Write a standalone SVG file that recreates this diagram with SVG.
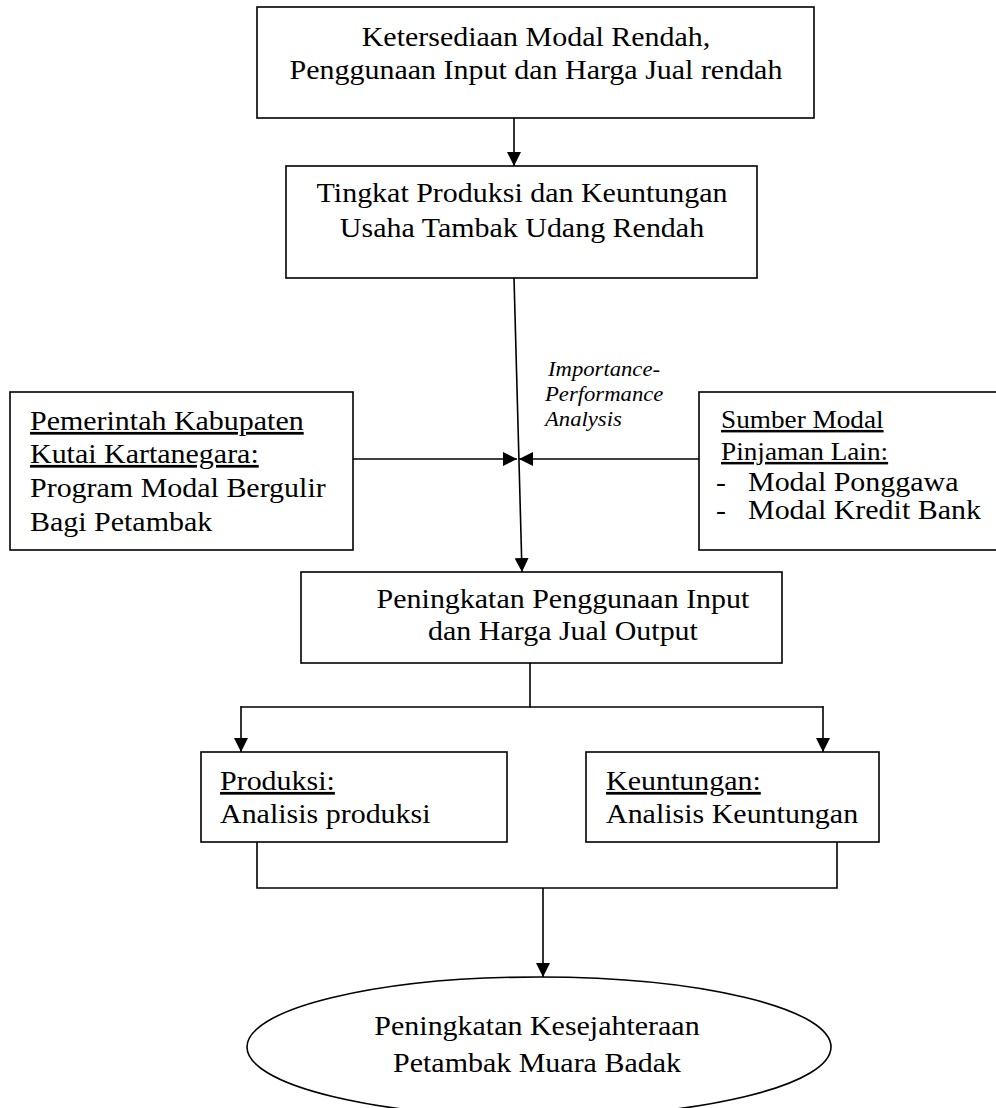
<svg xmlns="http://www.w3.org/2000/svg" width="996" height="1108" viewBox="0 0 996 1108">
<style>
.box{fill:#fff;stroke:#000;stroke-width:1.6}
.ln{fill:none;stroke:#000;stroke-width:1.6}
.t{font-family:"Liberation Serif","Times New Roman",serif;font-size:27.5px;fill:#000}
.ts{font-family:"Liberation Serif","Times New Roman",serif;font-size:25px;fill:#000}
.ti{font-family:"Liberation Serif","Times New Roman",serif;font-size:21px;font-style:italic;fill:#000}
.c{text-anchor:middle}
.u{text-decoration:underline}
</style>
<defs>
<marker id="ah" viewBox="0 0 14 14" refX="14" refY="7" markerWidth="14" markerHeight="14" markerUnits="userSpaceOnUse" orient="auto">
<path d="M0,0 L14,7 L0,14 Z" fill="#000"/>
</marker>
</defs>
<rect width="996" height="1108" fill="#fff"/>
<g id="connectors">
<line class="ln" x1="514" y1="118" x2="514" y2="166" marker-end="url(#ah)"/>
<line class="ln" x1="514" y1="278" x2="522" y2="572" marker-end="url(#ah)"/>
<line class="ln" x1="353" y1="459" x2="517" y2="459" marker-end="url(#ah)"/>
<line class="ln" x1="699" y1="459" x2="519" y2="459" marker-end="url(#ah)"/>
<polyline class="ln" points="530,663 530,707 241,707"/>
<line class="ln" x1="241" y1="706" x2="241" y2="752" marker-end="url(#ah)"/>
<polyline class="ln" points="530,707 823,707"/>
<line class="ln" x1="823" y1="706" x2="823" y2="752" marker-end="url(#ah)"/>
<polyline class="ln" points="257,842 257,888 837,888 837,842"/>
<line class="ln" x1="543" y1="888" x2="543" y2="977" marker-end="url(#ah)"/>
</g>
<g id="n1">
<rect class="box" x="257" y="7" width="557" height="111"/>
<text class="t c" transform="translate(536,46) scale(1.09,1)">Ketersediaan Modal Rendah,</text>
<text class="t c" transform="translate(536,79) scale(1.09,1)">Penggunaan Input dan Harga Jual rendah</text>
</g>
<g id="n2">
<rect class="box" x="286" y="166" width="471" height="112"/>
<text class="t c" transform="translate(522,202) scale(1.09,1)">Tingkat Produksi dan Keuntungan</text>
<text class="t c" transform="translate(522,237) scale(1.09,1)">Usaha Tambak Udang Rendah</text>
</g>
<g id="label-ipa">
<text class="ti" transform="translate(548,376) scale(1.08,1)">Importance-</text>
<text class="ti" transform="translate(545,401) scale(1.08,1)">Performance</text>
<text class="ti" transform="translate(545,426) scale(1.08,1)">Analysis</text>
</g>
<g id="n-pemerintah">
<rect class="box" x="10" y="392" width="343" height="158"/>
<text class="t u" transform="translate(30,430) scale(1.09,1)">Pemerintah Kabupaten</text>
<text class="t u" transform="translate(30,463) scale(1.09,1)">Kutai Kartanegara:</text>
<text class="t" transform="translate(30,497) scale(1.09,1)">Program Modal Bergulir</text>
<text class="t" transform="translate(30,531) scale(1.09,1)">Bagi Petambak</text>
</g>
<g id="n-sumber">
<rect class="box" x="699" y="392" width="310" height="158"/>
<text class="ts u" transform="translate(721,428) scale(1.09,1)">Sumber Modal</text>
<text class="ts u" transform="translate(721,460) scale(1.09,1)">Pinjaman Lain:</text>
<text class="t" transform="translate(716,491) scale(1.09,1)">-</text>
<text class="t" transform="translate(748,491) scale(1.09,1)">Modal Ponggawa</text>
<text class="t" transform="translate(716,519) scale(1.09,1)">-</text>
<text class="t" transform="translate(748,519) scale(1.09,1)">Modal Kredit Bank</text>
</g>
<g id="n3">
<rect class="box" x="301" y="572" width="481" height="91"/>
<text class="t c" transform="translate(563,608) scale(1.09,1)">Peningkatan Penggunaan Input</text>
<text class="t c" transform="translate(563,640) scale(1.09,1)">dan Harga Jual Output</text>
</g>
<g id="n-produksi">
<rect class="box" x="201" y="752" width="306" height="90"/>
<text class="t u" transform="translate(220,790) scale(1.09,1)">Produksi:</text>
<text class="t" transform="translate(220,823) scale(1.09,1)">Analisis produksi</text>
</g>
<g id="n-keuntungan">
<rect class="box" x="586" y="752" width="293" height="90"/>
<text class="t u" transform="translate(606,790) scale(1.09,1)">Keuntungan:</text>
<text class="t" transform="translate(606,823) scale(1.09,1)">Analisis Keuntungan</text>
</g>
<g id="n-kesejahteraan">
<ellipse class="box" cx="539" cy="1047" rx="292" ry="70"/>
<text class="t c" transform="translate(537,1035) scale(1.09,1)">Peningkatan Kesejahteraan</text>
<text class="t c" transform="translate(537,1072) scale(1.09,1)">Petambak Muara Badak</text>
</g>
</svg>
